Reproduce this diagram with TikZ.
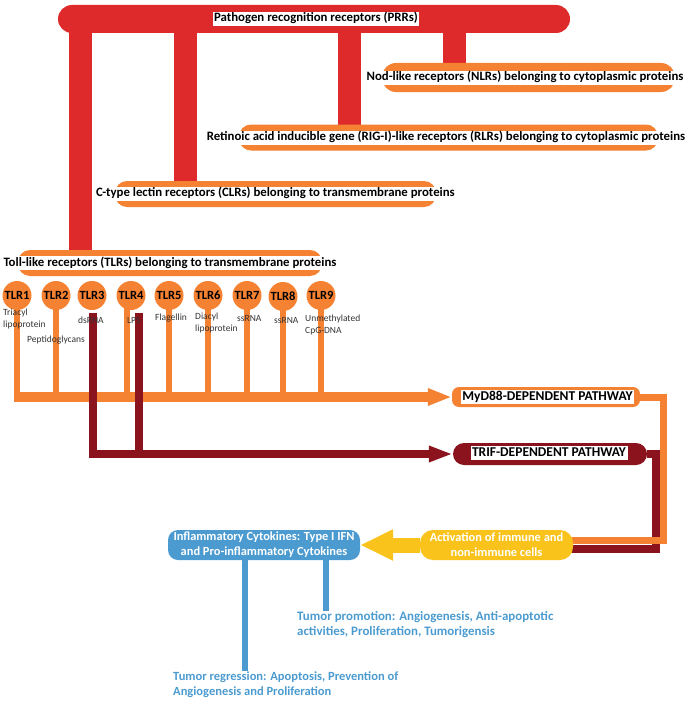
\documentclass[tikz,border=0pt]{standalone}
\usepackage{fontspec}
\setmainfont{Carlito}
\usetikzlibrary{arrows.meta,calc}
\definecolor{prr}{HTML}{DF2A2C}
\definecolor{org}{HTML}{F58232}
\definecolor{drd}{HTML}{8A131E}
\definecolor{ylw}{HTML}{F9C31B}
\definecolor{blu}{HTML}{4B9BD0}
\pgfdeclarelayer{bg}
\pgfsetlayers{bg,main}
\begin{document}
\begin{tikzpicture}[x=1pt,y=-1pt,
  lbl/.style={font=\fontsize{12.8}{14}\selectfont\bfseries, fill=white, inner xsep=1.5pt, inner ysep=1pt, text height=9pt, text depth=3pt},
  pbl/.style={font=\fontsize{13.5}{15}\selectfont\bfseries, fill=white, inner xsep=1.5pt, inner ysep=0.5pt, text height=9.5pt, text depth=3pt},
  oval/.style={fill=org, rounded corners=12pt, minimum height=26pt, inner sep=0},
  redbar/.style={draw=prr, line width=23pt},
  ostem/.style={draw=org, line width=6pt},
  dstem/.style={draw=drd, line width=8.5pt},
  tlrc/.style={circle, fill=org, minimum size=29pt, inner sep=0, font=\fontsize{12.5}{14}\selectfont\bfseries},
  small/.style={font=\fontsize{9.5}{12}\selectfont, text=black!80, inner sep=0, align=left, anchor=west},
  bluetxt/.style={font=\fontsize{12.9}{15}\selectfont\bfseries, text=blu, inner sep=0, align=left, anchor=west},
  whitetxt/.style={font=\fontsize{12.4}{15}\selectfont\bfseries, text=white, align=center, inner sep=0},
  bstem/.style={draw=blu, line width=6pt}
]
\useasboundingbox (0,0) rectangle (685,701);

% PRR bar
\node[fill=prr, minimum width=512pt, minimum height=28pt, rounded corners=14pt, inner sep=0] (prr) at (314,19) {};
\node[lbl] (prrT) at (316,19) {Pathogen recognition receptors (PRRs)};

% receptor family ovals
\node[oval, minimum width=293pt, minimum height=29pt, rounded corners=14pt] (nlrE) at (528.5,77.5) {};
\node[lbl] (nlrT) at (525,78) {Nod-like receptors (NLRs) belonging to cytoplasmic proteins};
\node[oval, minimum width=419pt] (rlrE) at (448.5,137.5) {};
\node[lbl] (rlrT) at (446,137.5) {Retinoic acid inducible gene (RIG-I)-like receptors (RLRs) belonging to cytoplasmic proteins};
\node[oval, minimum width=321pt] (clrE) at (275.5,194) {};
\node[lbl] (clrT) at (275.5,193.5) {C-type lectin receptors (CLRs) belonging to transmembrane proteins};
\node[oval, minimum width=304pt] (tlrE) at (170,263) {};
\node[lbl] (tlrT) at (170,263) {Toll-like receptors (TLRs) belonging to transmembrane proteins};

% TLR circles
\node[tlrc] (c1) at (17,295.5) {TLR1};
\node[tlrc] (c2) at (56,295.5) {TLR2};
\node[tlrc] (c3) at (92,295.5) {TLR3};
\node[tlrc] (c4) at (131,295.5) {TLR4};
\node[tlrc] (c5) at (169,295.5) {TLR5};
\node[tlrc] (c6) at (208,295.5) {TLR6};
\node[tlrc] (c7) at (247,295.5) {TLR7};
\node[tlrc] (c8) at (283,296.5) {TLR8};
\node[tlrc] (c9) at (321,295.5) {TLR9};

% pathway boxes
\node[fill=org, minimum width=188pt, minimum height=20pt, rounded corners=7pt, inner sep=0] (myd) at (546,397) {};
\node[pbl] (mydT) at (547.5,397) {MyD88-DEPENDENT PATHWAY};
\node[fill=drd, minimum width=194pt, minimum height=22pt, rounded corners=11pt, inner sep=0] (trif) at (550,454) {};
\node[pbl] (trifT) at (549,453) {TRIF-DEPENDENT PATHWAY};
\node[fill=ylw, minimum width=153pt, minimum height=30pt, rounded corners=13pt, whitetxt] (yel) at (496.5,545) {Activation of immune and\\non-immune cells};
\node[fill=blu, minimum width=192pt, minimum height=30pt, rounded corners=10pt, whitetxt] (bbox) at (264,545) {Inflammatory Cytokines: Type I IFN\\and Pro-inflammatory Cytokines};

% outcome texts
\node[bluetxt] (prom) at (297,624.5) {Tumor promotion: Angiogenesis, Anti-apoptotic\\activities, Proliferation, Tumorigensis};
\node[bluetxt, font=\fontsize{12.5}{15}\selectfont\bfseries] (treg) at (173,684.5) {Tumor regression: Apoptosis, Prevention of\\Angiogenesis and Proliferation};

% helper coordinates
\coordinate (r1) at ([xshift=-234pt]prr.center);
\coordinate (r2) at ([xshift=-129pt]prr.center);
\coordinate (r3) at ([xshift=35pt]prr.center);
\coordinate (r4) at ([xshift=140pt]prr.center);
\coordinate (busL) at (14,397);
\coordinate (o4) at ([xshift=-4pt]c4.center);
\coordinate (d3) at (93,313);
\coordinate (d4) at (139,313);
\coordinate (dcorner) at (656,549);
\coordinate (ocorner) at (663.5,540);
\coordinate (s1) at ([xshift=-19pt]bbox.center);
\coordinate (s2) at ([xshift=62pt]bbox.center);

\begin{pgfonlayer}{bg}
  \draw[redbar] (r1) -- (r1 |- tlrE.center);
  \draw[redbar] (r2) -- (r2 |- clrE.center);
  \draw[redbar] (r3) -- (r3 |- rlrE.center);
  \draw[redbar] (r4) -- (r4 |- nlrE.center);
  \foreach \c in {c1,c2,c5,c6,c7,c8,c9}
    \draw[ostem] (\c.center) -- (\c.center |- busL);
  \draw[ostem] (o4) -- (o4 |- busL);
  \draw[draw=drd, line width=8pt] (trif.east) -| (dcorner) -- (dcorner -| yel.center);
  \draw[draw=org, line width=7pt] (myd.east) -| (ocorner) -- (ocorner -| yel.center);
  \draw[bstem] (s1) -- (s1 |- treg.north);
  \draw[bstem] (s2) -- (s2 |- prom.north);
\end{pgfonlayer}

% buses with arrows
\draw[draw=org, line width=10pt, -{Triangle[length=24pt,width=16pt]}] (busL) -- (myd.west);
\draw[dstem, -{Triangle[length=24pt,width=15pt]}] (d3) -- (d3 |- trif.west) -- (trif.west);
\draw[dstem] (d4) -- (d4 |- trif.west);
\draw[draw=ylw, line width=15pt, -{Triangle[length=33pt,width=29pt]}] (yel.west) -- (bbox.east);

% ligand labels
\node[small] (l1) at (3,319) {Triacyl\\lipoprotein};
\node[small] (l2) at (27,340) {Peptidoglycans};
\node[small] (l3) at (78,320) {dsRNA};
\node[small] (l4) at (127,320) {LPS};
\node[small] (l5) at (155,318) {Flagellin};
\node[small] (l6) at (195,322.5) {Diacyl\\lipoprotein};
\node[small] (l7) at (237,318) {ssRNA};
\node[small] (l8) at (274,320) {ssRNA};
\node[small] (l9) at (305,325) {Unmethylated\\CpG-DNA};
\end{tikzpicture}
\end{document}
